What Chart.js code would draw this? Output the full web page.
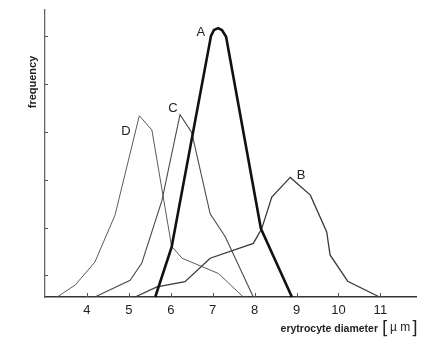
<!DOCTYPE html>
<html>
<head>
<meta charset="utf-8">
<script src="https://cdn.jsdelivr.net/npm/chart.js@4.4.1/dist/chart.umd.min.js"></script>
<style>
  body { margin: 0; background: #fff; }
  #wrap { width: 423px; height: 340px; }
</style>
</head>
<body>
<div id="wrap"><canvas id="rbcChart" width="423" height="340"></canvas></div>
<script>
// erytrocyte diameter (um) vs frequency, curves
const aX = [5.63, 6.02, 6.96, 7.03, 7.13, 7.22, 7.32, 8.15, 8.89];
const aY = [0, 1.04, 5.46, 5.58, 5.62, 5.58, 5.44, 1.43, 0];

const bX = [5.15, 5.67, 6.34, 6.94, 7.97, 8.17, 8.41, 8.85, 9.33, 9.72, 9.80, 10.22, 10.98];
const bY = [0, 0.21, 0.32, 0.81, 1.12, 1.43, 2.09, 2.50, 2.13, 1.36, 0.88, 0.33, 0];

const cX = [4.19, 5.03, 5.31, 5.79, 6.22, 6.50, 6.94, 7.30, 7.97];
const cY = [0, 0.35, 0.71, 2.02, 3.81, 3.44, 1.74, 1.26, 0];

const dX = [3.29, 3.72, 4.19, 4.67, 5.25, 5.55, 6.02, 6.27, 7.14, 7.73];
const dY = [0, 0.25, 0.73, 1.71, 3.79, 3.49, 1.06, 0.81, 0.49, 0];

const curveNames = ['A', 'B', 'C', 'D'];
const nameX = [6.72, 9.11, 6.05, 4.93];
const nameY = [5.54, 2.54, 3.94, 3.46];

const xTicks = [4, 5, 6, 7, 8, 9, 10, 11];
const yTicks = [0.45, 1.45, 2.45, 3.45, 4.45, 5.45];

const toPoints = (xs, ys) => xs.map((x, i) => ({ x: x, y: ys[i] }));

const lineSet = (label, xs, ys, color, width) => ({
    label: label,
    data: toPoints(xs, ys),
    borderColor: color,
    borderWidth: width,
    pointRadius: 0,
    tension: 0,
    fill: false,
    clip: false
});

// inward tick marks, curve letters and axis titles
const decorations = {
    id: 'decorations',
    afterDraw(chart) {
        const ctx = chart.ctx;
        const xs = chart.scales.x;
        const ys = chart.scales.y;
        const area = chart.chartArea;

        ctx.save();
        ctx.strokeStyle = '#555';
        ctx.lineWidth = 1;
        xTicks.forEach(v => {
            const px = Math.round(xs.getPixelForValue(v)) + 0.5;
            ctx.beginPath();
            ctx.moveTo(px, area.bottom);
            ctx.lineTo(px, area.bottom - 4);
            ctx.stroke();
        });
        yTicks.forEach(v => {
            const py = Math.round(ys.getPixelForValue(v)) + 0.5;
            ctx.beginPath();
            ctx.moveTo(area.left, py);
            ctx.lineTo(area.left + 3, py);
            ctx.stroke();
        });

        ctx.fillStyle = '#222';
        ctx.font = '13px "Liberation Sans", Arial, sans-serif';
        ctx.textAlign = 'center';
        ctx.textBaseline = 'middle';
        curveNames.forEach((n, i) => {
            ctx.fillText(n, xs.getPixelForValue(nameX[i]), ys.getPixelForValue(nameY[i]));
        });

        ctx.font = 'bold 10.5px "Liberation Sans", Arial, sans-serif';
        ctx.textAlign = 'right';
        ctx.fillText('erytrocyte diameter', 378, 329);
        ctx.font = '17px "DejaVu Sans", sans-serif';
        ctx.textAlign = 'left';
        ctx.fillText('[', 382, 330);
        ctx.font = '12px "Liberation Sans", Arial, sans-serif';
        ctx.fillText('\u00b5 m', 390, 328);
        ctx.font = '17px "DejaVu Sans", sans-serif';
        ctx.fillText(']', 411, 330);

        ctx.translate(33, 82);
        ctx.rotate(-Math.PI / 2);
        ctx.font = 'bold 11px "Liberation Sans", Arial, sans-serif';
        ctx.textAlign = 'center';
        ctx.fillText('frequency', 0, 0);
        ctx.restore();
    }
};

new Chart(document.getElementById('rbcChart'), {
    type: 'line',
    data: {
        datasets: [
            lineSet('A', aX, aY, '#111', 2.6),
            lineSet('B', bX, bY, '#3a3a3a', 1.3),
            lineSet('C', cX, cY, '#4a4a4a', 1.1),
            lineSet('D', dX, dY, '#5a5a5a', 1)
        ]
    },
    options: {
        responsive: false,
        animation: false,
        layout: { padding: { top: 10, right: 7, left: 0, bottom: 0 } },
        plugins: {
            legend: { display: false },
            tooltip: { enabled: false }
        },
        scales: {
            x: {
                type: 'linear',
                min: 3,
                max: 11.85,
                afterBuildTicks: s => { s.ticks = xTicks.map(v => ({ value: v })); },
                afterFit: s => { s.height = 43; },
                grid: { display: false, drawTicks: false },
                border: { color: '#333', width: 1.6 },
                ticks: {
                    autoSkip: false,
                    maxRotation: 0,
                    padding: 6,
                    color: '#222',
                    font: { family: '"Liberation Sans", Arial, sans-serif', size: 13 }
                }
            },
            y: {
                type: 'linear',
                min: 0,
                max: 6,
                afterFit: s => { s.width = 45; },
                grid: { display: false, drawTicks: false },
                border: { color: '#666', width: 1.3 },
                ticks: { display: false }
            }
        }
    },
    plugins: [decorations]
});
</script>
</body>
</html>
